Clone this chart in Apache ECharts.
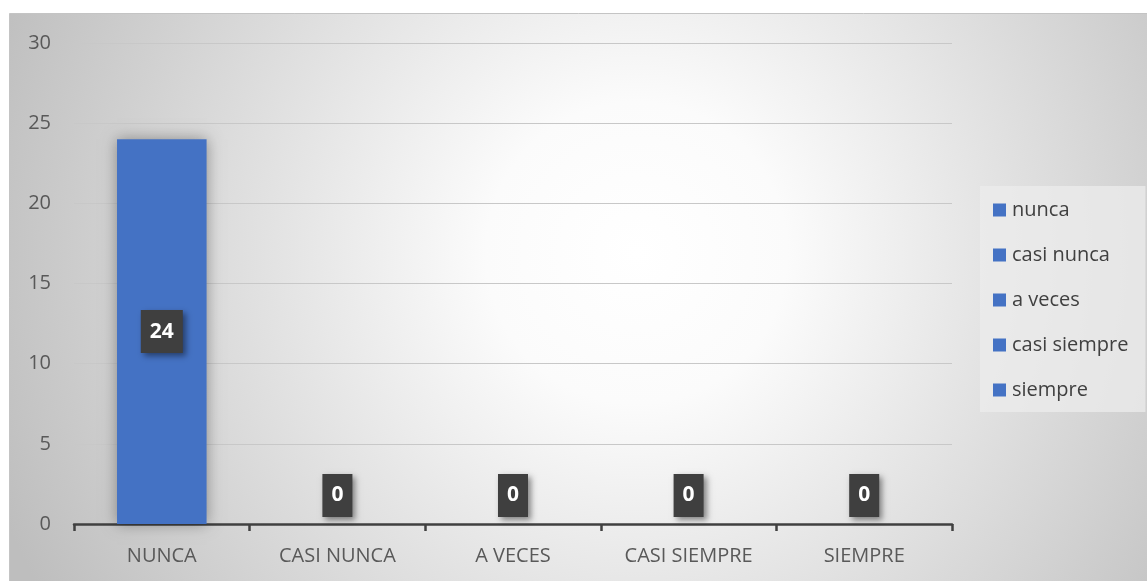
<!DOCTYPE html>
<html>
<head>
<meta charset="utf-8">
<style>
  html, body { margin: 0; padding: 0; background: #ffffff; }
  #chart { width: 1147px; height: 581px; }
</style>
<script src="https://cdn.jsdelivr.net/npm/echarts@6/dist/echarts.min.js"></script>
</head>
<body>
<div id="chart"></div>
<script>
// Response categories on the x axis
const categories = ['NUNCA', 'CASI NUNCA', 'A VECES', 'CASI SIEMPRE', 'SIEMPRE'];
// Legend / series names
const seriesNames = ['nunca', 'casi nunca', 'a veces', 'casi siempre', 'siempre'];
// Count per response
const counts = [24, 0, 0, 0, 0];

const BLUE = '#4472C4';
const FONT = '"Open Sans", "Noto Sans", sans-serif';

const chart = echarts.init(document.getElementById('chart'), null, { renderer: 'canvas' });

// One series per response, each holding its own category's value
const series = seriesNames.map(function (name, i) {
  const data = categories.map(function (_, j) { return j === i ? counts[i] : '-'; });
  return {
    name: name,
    type: 'bar',
    stack: 'total',
    barWidth: '51%',
    data: data,
    itemStyle: {
      color: BLUE,
      shadowBlur: 14,
      shadowColor: 'rgba(0,0,0,0.35)'
    },
    label: {
      show: true,
      position: counts[i] > 0 ? 'inside' : 'top',
      distance: 7,
      formatter: '{c}',
      color: '#ffffff',
      fontFamily: FONT,
      fontWeight: 'bold',
      fontSize: 21,
      lineHeight: 25,
      backgroundColor: '#3f3f3f',
      padding: [9, 9],
      shadowColor: 'rgba(0,0,0,0.45)',
      shadowBlur: 6,
      shadowOffsetX: 3,
      shadowOffsetY: 3
    }
  };
});

chart.setOption({
  animation: false,
  graphic: [{
    type: 'rect',
    z: -10,
    silent: true,
    shape: { x: 9.5, y: 13.5, width: 1140, height: 570 },
    style: {
      fill: {
        type: 'radial',
        x: 0.55, y: 0.42, r: 1.2,
        colorStops: [
          { offset: 0, color: '#ffffff' },
          { offset: 0.22, color: '#fbfbfb' },
          { offset: 1, color: '#bebebe' }
        ]
      },
      stroke: '#c4c4c4',
      lineWidth: 1
    }
  }],
  grid: { left: 74, right: 195, top: 43, bottom: 57 },
  legend: {
    orient: 'vertical',
    left: 980,
    top: 186,
    padding: [14, 17, 12, 13],
    backgroundColor: 'rgba(236,236,236,0.75)',
    itemWidth: 13,
    itemHeight: 13,
    itemGap: 25,
    icon: 'rect',
    data: seriesNames,
    textStyle: {
      color: '#404040',
      fontFamily: FONT,
      fontSize: 20,
      lineHeight: 20,
      padding: [0, 0, 0, 1]
    }
  },
  xAxis: {
    type: 'category',
    data: categories,
    axisLine: { lineStyle: { color: '#404040', width: 2.5 } },
    axisTick: { show: true, length: 7, lineStyle: { color: '#404040', width: 2.5 } },
    axisLabel: { color: '#595959', fontFamily: FONT, fontSize: 20, margin: 22 }
  },
  yAxis: {
    type: 'value',
    min: 0,
    max: 30,
    interval: 5,
    axisLine: { show: false },
    axisTick: { show: false },
    axisLabel: { color: '#595959', fontFamily: FONT, fontSize: 20, margin: 23 },
    splitLine: { lineStyle: { color: '#c8c8c8', width: 1 } }
  },
  series: series
});
</script>
</body>
</html>
